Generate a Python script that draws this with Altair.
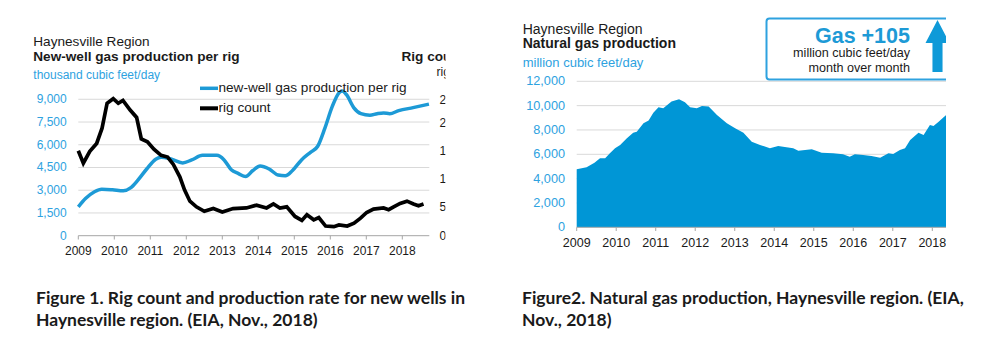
import altair as alt
import pandas as pd

# ---------------- data ----------------
prod_year = [2009.00, 2009.20, 2009.45, 2009.65, 2009.95, 2010.25, 2010.45, 2010.65, 2010.90,
             2011.15, 2011.30, 2011.55, 2011.90, 2012.15, 2012.45, 2012.85, 2013.05, 2013.25,
             2013.45, 2013.65, 2013.85, 2014.05, 2014.30, 2014.55, 2014.75, 2014.95, 2015.20,
             2015.45, 2015.65, 2015.85, 2016.05, 2016.25, 2016.33, 2016.45, 2016.65, 2016.85,
             2017.10, 2017.30, 2017.48, 2017.65, 2017.90, 2018.30, 2018.74]
prod_val = [1900, 2450, 2900, 3070, 3030, 2960, 3150, 3650, 4400,
            5050, 5180, 5080, 4800, 5000, 5300, 5300, 5000, 4350,
            4100, 3900, 4300, 4600, 4400, 4000, 3950, 4300, 5000,
            5500, 5900, 7100, 8500, 9450, 9550, 9300, 8450, 8050,
            7950, 8050, 8100, 8050, 8250, 8450, 8680]

rig_year = [2009.00, 2009.14, 2009.32, 2009.51, 2009.66, 2009.80, 2009.97, 2010.11, 2010.24,
            2010.44, 2010.62, 2010.75, 2010.92, 2011.10, 2011.30, 2011.48, 2011.64, 2011.82,
            2011.95, 2012.10, 2012.28, 2012.50, 2012.75, 2013.00, 2013.30, 2013.67, 2013.95,
            2014.23, 2014.42, 2014.60, 2014.79, 2015.02, 2015.21, 2015.35, 2015.54, 2015.68,
            2015.87, 2016.10, 2016.24, 2016.47, 2016.66, 2016.84, 2017.01, 2017.20, 2017.48,
            2017.62, 2017.76, 2017.94, 2018.13, 2018.31, 2018.45, 2018.59]
rig_val = [150, 128, 149, 163, 190, 234, 242, 234, 239,
           222, 209, 171, 166, 153, 142, 139, 126, 104,
           81, 61, 51, 43, 48, 42, 48, 49, 54,
           49, 56, 49, 51, 34, 27, 37, 28, 32,
           17, 16, 19, 17, 22, 31, 41, 47, 49,
           46, 51, 57, 61, 56, 53, 56]

gas_year = [2009.00, 2009.25, 2009.45, 2009.59, 2009.72, 2009.84, 2009.97, 2010.10, 2010.27,
            2010.43, 2010.52, 2010.69, 2010.82, 2010.94, 2011.07, 2011.19, 2011.40, 2011.59,
            2011.74, 2011.87, 2012.04, 2012.17, 2012.34, 2012.55, 2012.80, 2013.01, 2013.22,
            2013.43, 2013.64, 2013.89, 2014.10, 2014.31, 2014.48, 2014.61, 2014.95, 2015.20,
            2015.49, 2015.74, 2015.91, 2016.04, 2016.25, 2016.46, 2016.68, 2016.89, 2017.01,
            2017.18, 2017.31, 2017.44, 2017.65, 2017.78, 2017.94, 2018.03, 2018.16, 2018.35]
gas_val = [4770, 4930, 5300, 5670, 5670, 6085, 6500, 6770, 7320,
           7780, 7860, 8550, 8770, 9420, 9870, 9790, 10330, 10525,
           10280, 9870, 9790, 9975, 9930, 9235, 8550, 8140, 7780,
           7040, 6770, 6500, 6690, 6580, 6500, 6300, 6410, 6135,
           6080, 6000, 5800, 6000, 5950, 5870, 5720, 6085, 6030,
           6350, 6500, 7180, 7780, 7590, 8410, 8330, 8680, 9235]

tick_years = [2009, 2010, 2011, 2012, 2013, 2014, 2015, 2016, 2017, 2018]
left_ticks = [0, 1500, 3000, 4500, 6000, 7500, 9000]
rig_ticks = [0, 50, 100, 150, 200, 240]
right_ticks = [0, 2000, 4000, 6000, 8000, 10000, 12000]

legend_names = ["new-well gas production per rig", "rig count"]
caption1 = ["Figure 1. Rig count and production rate for new wells in",
            "Haynesville region. (EIA, Nov., 2018)"]
caption2 = ["Figure2. Natural gas production, Haynesville region. (EIA,",
            "Nov., 2018)"]

# ---------------- styles ----------------
FONT = "Liberation Sans"
LINE_BLUE = "#1d9ad6"
AREA_BLUE = "#0096d6"
LABEL_BLUE = "#2ea2df"
GRID = "#d9d9d9"
AXIS = "#a6a6a6"
TXT = "#1a1a1a"

xL = alt.Scale(domain=[2009, 2018], range=[78.3, 402.3], zero=False, nice=False)
yL = alt.Scale(domain=[0, 9500], range=[235.7, 91.7], zero=False, nice=False)
yRig = alt.Scale(domain=[0, 250], range=[235.7, 94.2], zero=False, nice=False)
xR = alt.Scale(domain=[2009, 2018], range=[576.7, 932.3], zero=False, nice=False)
yR = alt.Scale(domain=[0, 12000], range=[227.3, 81.3], zero=False, nice=False)

prod_df = pd.DataFrame({"year": prod_year, "v": prod_val})
rig_df = pd.DataFrame({"year": rig_year, "v": rig_val})
gas_df = pd.DataFrame({"year": gas_year, "v": gas_val})
yr_df = pd.DataFrame({"year": tick_years, "label": [str(y) for y in tick_years]})
lt_df = pd.DataFrame({"v": left_ticks, "label": [f"{v:,}" for v in left_ticks]})
rg_df = pd.DataFrame({"v": rig_ticks, "label": [str(v) for v in rig_ticks]})
rt_df = pd.DataFrame({"v": right_ticks, "label": [f"{v:,}" for v in right_ticks]})
one = pd.DataFrame({"a": [0]})


def txt(text, x, y, size, color=TXT, weight="normal", align="left", font=FONT, baseline="alphabetic"):
    return alt.Chart(one).mark_text(text=text, font=font, fontSize=size, color=color,
                                    fontWeight=weight, align=align, baseline=baseline).encode(
        x=alt.value(x), y=alt.value(y))


layers = []

# ===== Left chart =====
layers.append(alt.Chart(lt_df[lt_df.v > 0]).mark_rule(color=GRID, strokeWidth=1).encode(
    y=alt.Y("v:Q", scale=yL, axis=None), x=alt.value(78.3), x2=alt.value(429.3)))
layers.append(alt.Chart(lt_df[lt_df.v == 0]).mark_rule(color=AXIS, strokeWidth=1).encode(
    y=alt.Y("v:Q", scale=yL, axis=None), x=alt.value(78.3), x2=alt.value(429.3)))
layers.append(alt.Chart(yr_df).mark_rule(color=AXIS, strokeWidth=1).encode(
    x=alt.X("year:Q", scale=xL, axis=None), y=alt.value(235.7), y2=alt.value(239.5)))
layers.append(alt.Chart(yr_df).mark_text(font=FONT, fontSize=12, color=TXT, baseline="alphabetic").encode(
    x=alt.X("year:Q", scale=xL, axis=None), y=alt.value(255), text="label:N"))
layers.append(alt.Chart(lt_df).mark_text(font=FONT, fontSize=12, color=LABEL_BLUE, align="right",
                                          baseline="middle").encode(
    y=alt.Y("v:Q", scale=yL, axis=None), x=alt.value(66.7), text="label:N"))
layers.append(alt.Chart(rg_df).mark_text(font=FONT, fontSize=12, color=TXT, align="left",
                                          baseline="middle").encode(
    y=alt.Y("v:Q", scale=yRig, axis=None), x=alt.value(439.5), text="label:N"))
layers.append(alt.Chart(prod_df).mark_line(color=LINE_BLUE, strokeWidth=3.5, interpolate="monotone").encode(
    x=alt.X("year:Q", scale=xL, axis=None), y=alt.Y("v:Q", scale=yL, axis=None)))
layers.append(alt.Chart(rig_df).mark_line(color="#000000", strokeWidth=3.7, interpolate="linear").encode(
    x=alt.X("year:Q", scale=xL, axis=None), y=alt.Y("v:Q", scale=yRig, axis=None)))

# legend
layers.append(alt.Chart(one).mark_rule(color=LINE_BLUE, strokeWidth=3.5).encode(
    x=alt.value(200), x2=alt.value(218), y=alt.value(88.3)))
layers.append(alt.Chart(one).mark_rule(color="#000000", strokeWidth=4).encode(
    x=alt.value(200), x2=alt.value(218), y=alt.value(108.3)))
layers.append(txt(legend_names[0], 218.5, 88.3, 13.6, baseline="middle"))
layers.append(txt(legend_names[1], 218.5, 108.3, 13.6, baseline="middle"))

# titles
layers.append(txt("Haynesville Region", 33.3, 45.5, 13.6))
layers.append(txt("New-well gas production per rig", 33.3, 61, 13.6, weight="bold"))
layers.append(txt("thousand cubic feet/day", 33.3, 78.5, 12, color=LABEL_BLUE))
layers.append(txt("Rig count", 401.5, 60.5, 13.6, weight="bold"))
layers.append(txt("rigs", 436.5, 75.5, 12))

# mask: the original figure is cropped at its right edge
layers.append(alt.Chart(one).mark_rect(color="white").encode(
    x=alt.value(445.5), x2=alt.value(480), y=alt.value(0), y2=alt.value(265)))

# ===== Right chart =====
layers.append(alt.Chart(rt_df[rt_df.v > 0]).mark_rule(color=GRID, strokeWidth=1).encode(
    y=alt.Y("v:Q", scale=yR, axis=None), x=alt.value(576.7), x2=alt.value(946)))
layers.append(alt.Chart(gas_df).mark_area(color=AREA_BLUE, interpolate="linear", opacity=1).encode(
    x=alt.X("year:Q", scale=xR, axis=None), y=alt.Y("v:Q", scale=yR, axis=None)))
layers.append(alt.Chart(rt_df[rt_df.v == 0]).mark_rule(color=AXIS, strokeWidth=1).encode(
    y=alt.Y("v:Q", scale=yR, axis=None), x=alt.value(576.7), x2=alt.value(946)))
layers.append(alt.Chart(yr_df).mark_rule(color=AXIS, strokeWidth=1).encode(
    x=alt.X("year:Q", scale=xR, axis=None), y=alt.value(227.3), y2=alt.value(231)))
layers.append(alt.Chart(yr_df).mark_text(font=FONT, fontSize=12.5, color=TXT, baseline="alphabetic").encode(
    x=alt.X("year:Q", scale=xR, axis=None), y=alt.value(246.5), text="label:N"))
layers.append(alt.Chart(rt_df).mark_text(font=FONT, fontSize=12.7, color=LABEL_BLUE, align="right",
                                          baseline="middle").encode(
    y=alt.Y("v:Q", scale=yR, axis=None), x=alt.value(565), text="label:N"))

layers.append(txt("Haynesville Region", 522.7, 33.5, 14))
layers.append(txt("Natural gas production", 522.7, 48.3, 14, weight="bold"))
layers.append(txt("million cubic feet/day", 522.7, 66.5, 13, color=LABEL_BLUE))

# callout box
layers.append(alt.Chart(one).mark_rect(fill="white", stroke="#2ea2df", strokeWidth=2, cornerRadius=3).encode(
    x=alt.value(766.5), x2=alt.value(965), y=alt.value(18.5), y2=alt.value(79.5)))
layers.append(txt("Gas +105", 910, 42.5, 21.5, color="#1d9ad6", weight="bold", align="right"))
layers.append(txt("million cubic feet/day", 910, 57, 12.6, align="right"))
layers.append(txt("month over month", 910, 71.5, 12.6, align="right"))
arrow = "M0,-2.17 L1,-0.25 L0.42,-0.25 L0.42,2.17 L-0.42,2.17 L-0.42,-0.25 L-1,-0.25 Z"
layers.append(alt.Chart(one).mark_point(shape=arrow, filled=True, size=576, color="#0f9ad8",
                                         opacity=1, strokeWidth=0).encode(
    x=alt.value(937.5), y=alt.value(46)))

# mask: right edge crop of the second figure
layers.append(alt.Chart(one).mark_rect(color="white").encode(
    x=alt.value(946), x2=alt.value(989), y=alt.value(0), y2=alt.value(265)))

# ===== Captions =====
CAP_FONT = "Lato"
CAP_SIZE = 17.5
layers.append(txt(caption1[0], 36, 304, CAP_SIZE, weight="bold", font=CAP_FONT))
layers.append(txt(caption1[1], 36, 326, CAP_SIZE, weight="bold", font=CAP_FONT))
layers.append(txt(caption2[0], 522, 304, CAP_SIZE, weight="bold", font=CAP_FONT))
layers.append(txt(caption2[1], 522, 326, CAP_SIZE, weight="bold", font=CAP_FONT))

chart = alt.layer(*layers).resolve_scale(x="independent", y="independent").properties(
    width=989, height=340, padding=0, autosize=alt.AutoSizeParams(type="none"),
    background="white"
).configure_view(strokeWidth=0)

chart.save("out.html", embed_options={"renderer": "svg", "actions": False})
